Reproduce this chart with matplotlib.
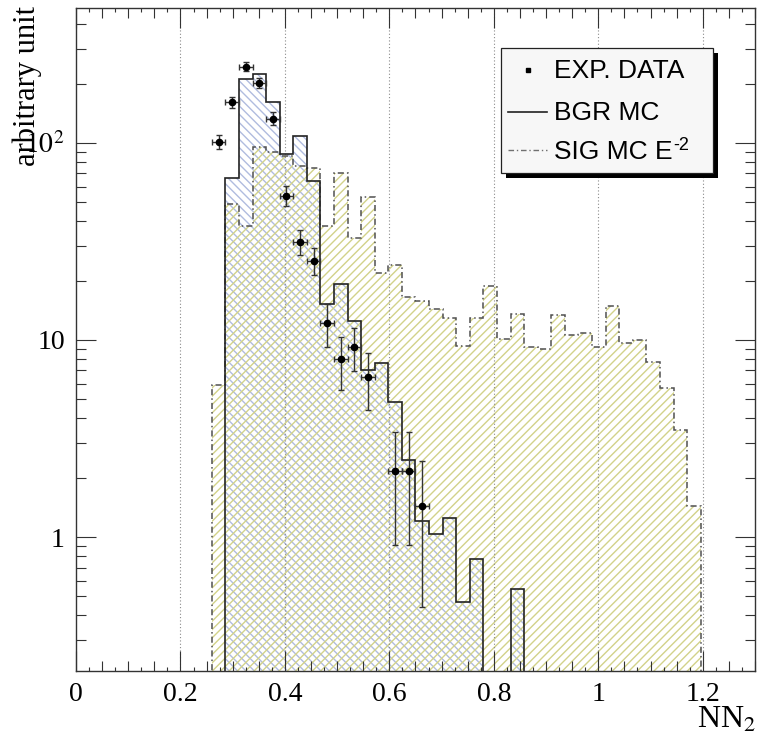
import numpy as np
import matplotlib
matplotlib.use("Agg")
import matplotlib.pyplot as plt
from matplotlib.ticker import MultipleLocator, FixedLocator, FixedFormatter, FuncFormatter, NullFormatter
from matplotlib.patches import Rectangle
from matplotlib.lines import Line2D

# ---------------- data ----------------
# histogram binning (ROOT style: 50 bins from 0 to 1.3)
hist_lo, hist_hi, n_bins = 0.0, 1.3, 50

# signal MC (E^-2), first non-empty bin index = 10
sig_first_bin = 10
sig_values = [5.9, 49, 38, 95, 90, 86, 76, 75, 38, 70, 33, 53, 22, 24, 16.6, 15.8,
              14.3, 12.9, 9.3, 12.9, 18.7, 10.1, 13.5, 9.25, 9.0, 13.4, 10.6, 10.9,
              9.25, 14.9, 9.7, 10.0, 7.7, 5.7, 3.5, 1.44]

# background MC, first non-empty bin index = 11
bgr_first_bin = 11
bgr_values = [66, 211, 223, 162, 88, 109, 64, 15.2, 19.2, 12.5, 7.0, 7.6, 4.86,
              2.47, 1.20, 1.03, 1.25, 0.466, 0.77, 0.0, 0.0, 0.545]

# experimental data, first bin index = 10 (nan = empty bin)
data_first_bin = 10
data_values = [101.5, 161, 244, 202, 133, 54, 31.6, 25.3, 12.2, 8.0, 9.25, 6.5,
               np.nan, 2.16, 2.16, 1.44]
data_errors = [8.5, 10.8, 13, 12, 9.8, 6.2, 4.6, 3.9, 3.0, 2.4, 2.3, 2.1,
               np.nan, 1.25, 1.25, 1.0]

x_label = "NN$_2$"
y_label = "arbitrary unit"
legend_labels = ["EXP. DATA", "BGR MC", "SIG MC E"]
legend_sig_sup = "-2"

# ---------------- style ----------------
plt.rcParams["font.family"] = ["Liberation Serif", "DejaVu Serif"]
plt.rcParams["mathtext.fontset"] = "stix"
plt.rcParams["hatch.linewidth"] = 1.0

W, H = 757, 738
fig = plt.figure(figsize=(W / 100, H / 100), dpi=100)
ax = fig.add_axes([76 / W, (H - 671) / H, 679 / W, 663 / H])

edges = np.linspace(hist_lo, hist_hi, n_bins + 1)
width = edges[1] - edges[0]

sig = np.array(sig_values, dtype=float)
sig_edges = edges[sig_first_bin: sig_first_bin + len(sig) + 1]
bgr = np.array(bgr_values, dtype=float)
bgr_edges = edges[bgr_first_bin: bgr_first_bin + len(bgr) + 1]
bgr_plot = np.where(bgr > 0, bgr, 1e-3)

yellow = "#d2d28a"
blue = "#b0bcdf"
base = 1e-3

# background hatch fill
ax.stairs(bgr_plot, bgr_edges, baseline=base, fill=True, hatch="\\\\\\\\",
          facecolor="none", edgecolor=blue, linewidth=0, zorder=1)
# signal hatch fill (on top, so the overlap looks yellowish)
ax.stairs(sig, sig_edges, baseline=base, fill=True, hatch="////",
          facecolor="none", edgecolor=yellow, linewidth=0, zorder=1.1)

# grid lines (vertical dotted)
for gx in np.arange(0.2, 1.25, 0.2):
    ax.axvline(gx, color="#8a8a8a", linestyle=(0, (1, 2)), linewidth=0.8, zorder=1.5)

# outlines
ax.stairs(sig, sig_edges, baseline=base, fill=False, color="#505050",
          linestyle=(0, (4, 2, 1, 2)), linewidth=1.1, zorder=2)
ax.stairs(bgr_plot, bgr_edges, baseline=base, fill=False, color="#222222",
          linewidth=1.2, zorder=2.1)

# data points
dv = np.array(data_values, dtype=float)
de = np.array(data_errors, dtype=float)
centers = 0.5 * (edges[:-1] + edges[1:])
dx = centers[data_first_bin: data_first_bin + len(dv)]
ok = ~np.isnan(dv)
ax.errorbar(dx[ok], dv[ok], xerr=width / 2, yerr=de[ok], fmt="o", ms=4.5,
            color="black", ecolor="#333333", elinewidth=1.0, capsize=2,
            capthick=1.0, zorder=3)

# axes
ax.set_yscale("log")
ax.set_xlim(0, 1.3)
ax.set_ylim(0.2089, 484)

ax.xaxis.set_major_locator(MultipleLocator(0.2))
ax.xaxis.set_minor_locator(MultipleLocator(0.025))
ax.xaxis.set_major_formatter(FuncFormatter(lambda v, p: f"{v:g}"))
ax.yaxis.set_major_locator(FixedLocator([1, 10, 100]))
ax.yaxis.set_major_formatter(FixedFormatter(["1", "10", "$10^2$"]))
ax.yaxis.set_minor_locator(FixedLocator(
    [v * d for d in (0.1, 1, 10, 100) for v in range(2, 10)]))
ax.yaxis.set_minor_formatter(NullFormatter())

ax.tick_params(which="both", direction="in", top=True, right=True,
               width=0.8, colors="#333333", labelcolor="black")
ax.tick_params(which="major", length=14.4, labelsize=20)
ax.tick_params(axis="x", which="major", pad=8)
ax.tick_params(axis="y", which="major", pad=8)
ax.tick_params(which="minor", length=7.2)

for sp in ax.spines.values():
    sp.set_color("#333333")
    sp.set_linewidth(1.0)
    sp.set_zorder(4)

# tertiary (tiny) x ticks
locs = ax.xaxis.get_minorticklocs()
mticks = ax.xaxis.get_minor_ticks(len(locs))
for t, loc in zip(mticks, locs):
    r = loc / 0.05
    size = 7.2 if abs(r - round(r)) < 1e-6 else 2.6
    t.tick1line.set_markersize(size)
    t.tick2line.set_markersize(size)

# axis labels
fig.text(27 / W, 1 - 6 / H, y_label, rotation=90, ha="center", va="top", fontsize=22)
fig.text(756 / W, 1 - 706 / H, x_label, ha="right", va="top", fontsize=23)

# legend (ROOT style box with shadow)
def fx(x):
    return x / W

def fy(y):
    return 1 - y / H

bx0, by0, bx1, by1 = 501, 48, 713, 173
sh = 5
fig.add_artist(Rectangle((fx(bx0 + sh), fy(by1 + sh)), fx(bx1 - bx0), (by1 - by0) / H,
                         transform=fig.transFigure, facecolor="black", edgecolor="none", zorder=10))
fig.add_artist(Rectangle((fx(bx0), fy(by1)), fx(bx1 - bx0), (by1 - by0) / H,
                         transform=fig.transFigure, facecolor="#f7f7f7", edgecolor="#222222",
                         linewidth=0.9, zorder=11))
fig.add_artist(Line2D([fx(528)], [fy(70)], marker="s", ms=3.2, color="black",
                      transform=fig.transFigure, zorder=12))
fig.add_artist(Line2D([fx(508), fx(547)], [fy(112), fy(112)], color="#222222", lw=1.2,
                      transform=fig.transFigure, zorder=12))
fig.add_artist(Line2D([fx(508), fx(547)], [fy(150), fy(150)], color="#707070", lw=1.0,
                      linestyle=(0, (4, 2, 1, 2)), transform=fig.transFigure, zorder=12))
leg_texts = []
for lab, yb in zip(legend_labels, (78, 120, 159)):
    leg_texts.append(fig.text(fx(554), fy(yb), lab, ha="left", va="baseline", fontsize=19,
                              family=["Liberation Sans", "DejaVu Sans"], zorder=12))
renderer = fig.canvas.get_renderer()
bb = leg_texts[2].get_window_extent(renderer=renderer)
fig.text((bb.x1 + 1) / W, fy(159 - 9), legend_sig_sup, ha="left", va="baseline",
         fontsize=13, family=["Liberation Sans", "DejaVu Sans"], zorder=12)

fig.savefig("out.png", dpi=100)
